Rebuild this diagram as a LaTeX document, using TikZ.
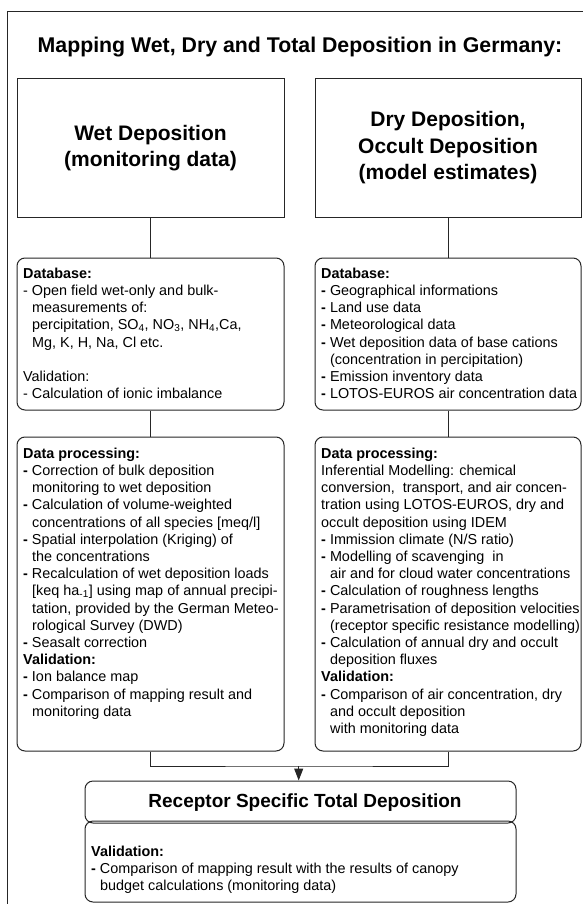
\documentclass[tikz,border=0pt]{standalone}
\usepackage{fontspec}
\setmainfont{Liberation Sans}
\usetikzlibrary{arrows.meta}
\newcommand\myind{\hspace*{9pt}}
\newcommand\bdash{\textbf{-}}
\newcommand\fst{\rule{0pt}{11pt}}
\begin{document}
\begin{tikzpicture}[x=1pt,y=-1pt,
  ln/.style={draw=black!85, line width=1pt},
  sqbox/.style={ln, rectangle, minimum width=267pt, minimum height=138pt, align=center, inner sep=0pt,
    font=\fontsize{21pt}{26.5pt}\selectfont\bfseries},
  rbox/.style={ln, rectangle, rounded corners=8pt, inner sep=0pt},
  txt/.style={anchor=north west, inner sep=0pt, align=left, font=\fontsize{14.4pt}{17.2pt}\selectfont},
  conn/.style={draw=black!85, line width=1pt}]
\useasboundingbox (0,0) rectangle (583,904);
\fill[white] (0,0) rectangle (583,904);
\clip (0,0) rectangle (583,904);
% outer frame
\draw[ln] (7.5,920) -- (7.5,12) -- (600,12);
% title
\node[anchor=base, inner sep=0pt, font=\fontsize{21.3pt}{25pt}\selectfont\bfseries] (title) at (300,53)
  {Mapping Wet, Dry and Total Deposition in Germany:};
% top boxes
\node[sqbox] (wet) at (150.5,148) {Wet Deposition\\(monitoring data)};
\node[sqbox, minimum width=266pt] (dry) at (448,148) {Dry Deposition,\\Occult Deposition\\(model estimates)};
% database boxes
\node[rbox, minimum width=267pt, minimum height=152pt] (ldb) at (150.5,334) {};
\node[rbox, minimum width=266pt, minimum height=152pt] (rdb) at (448,334) {};
% processing boxes
\node[rbox, minimum width=267pt, minimum height=314pt] (lproc) at (150.5,594) {};
\node[rbox, minimum width=266pt, minimum height=314pt] (rproc) at (448,594) {};
% receptor boxes
\node[rbox, minimum width=431pt, minimum height=81pt] (recval) at (300.5,861.5) {};
\node[rbox, minimum width=431pt, minimum height=42pt] (rec) at (300.5,802) {};
\node[inner sep=0pt, font=\fontsize{19pt}{23pt}\selectfont\bfseries] (rect) at (305,803) {Receptor Specific Total Deposition};
% texts
\node[txt] (ldbt) at (23,267) {\fst\textbf{Database:}\\
- Open field wet-only and bulk-\\
\myind measurements of:\\
\myind percipitation, SO\textsubscript{4}, NO\textsubscript{3}, NH\textsubscript{4},Ca,\\
\myind Mg, K, H, Na, Cl etc.\\[17.2pt]
Validation:\\
- Calculation of ionic imbalance};
\node[txt] (rdbt) at (321,267) {\fst\textbf{Database:}\\
\bdash{} Geographical informations\\
\bdash{} Land use data\\
\bdash{} Meteorological data\\
\bdash{} Wet deposition data of base cations\\
\myind (concentration in percipitation)\\
\bdash{} Emission inventory data\\
\bdash{} LOTOS-EUROS air concentration data};
\node[txt] (lpt) at (23,447) {\fst\textbf{Data processing:}\\
\bdash{} Correction of bulk deposition\\
\myind monitoring to wet deposition\\
\bdash{} Calculation of volume-weighted\\
\myind concentrations of all species [meq/l]\\
\bdash{} Spatial interpolation (Kriging) of\\
\myind the concentrations\\
\bdash{} Recalculation of wet deposition loads\\
\myind [keq ha\textsubscript{-1}] using map of annual precipi-\\
\myind tation, provided by the German Meteo-\\
\myind rological Survey (DWD)\\
\bdash{} Seasalt correction\\
\textbf{Validation:}\\
\bdash{} Ion balance map\\
\bdash{} Comparison of mapping result and\\
\myind monitoring data};
\node[txt] (rpt) at (321,447) {\fst\textbf{Data processing:}\\
Inferential Modelling: chemical\\
conversion,\ \ transport, and air concen-\\
tration using LOTOS-EUROS, dry and\\
occult deposition using IDEM\\
\bdash{} Immission climate (N/S ratio)\\
\bdash{} Modelling of scavenging\ \ in\\
\myind air and for cloud water concentrations\\
\bdash{} Calculation of roughness lengths\\
\bdash{} Parametrisation of deposition velocities\\
\myind (receptor specific resistance modelling)\\
\bdash{} Calculation of annual dry and occult\\
\myind deposition fluxes\\
\textbf{Validation:}\\
\bdash{} Comparison of air concentration, dry\\
\myind and occult deposition\\
\myind with monitoring data};
\node[txt] (rvt) at (91,845) {\fst\textbf{Validation:}\\
\bdash{} Comparison of mapping result with the results of canopy\\
\myind budget calculations (monitoring data)};
% connectors
\draw[conn] (wet) -- (ldb);
\draw[conn] (ldb) -- (lproc);
\draw[conn] (dry) -- (rdb);
\draw[conn] (rdb) -- (rproc);
\coordinate (j) at (298.7,766);
\draw[conn] (lproc.south) |- (j) -| (rproc.south);
\draw[conn, -{Triangle[width=9pt,length=12pt]}] (j) -- (j |- rec.north);
\end{tikzpicture}
\end{document}
